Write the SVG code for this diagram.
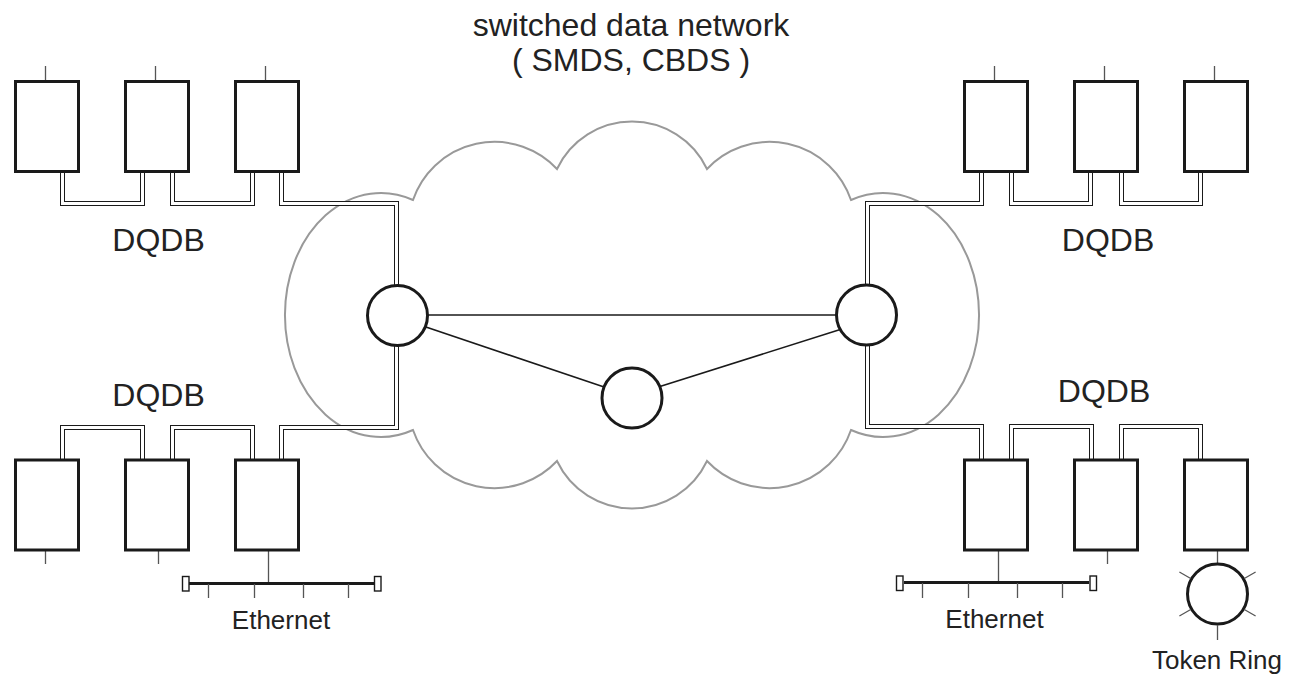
<svg xmlns="http://www.w3.org/2000/svg" width="1290" height="678" viewBox="0 0 1290 678">
<style>
.box{fill:#fff;stroke:#1a1a1a;stroke-width:3}
.node{fill:#fff;stroke:#1a1a1a;stroke-width:3}
.tick{stroke:#555;stroke-width:1.3;fill:none}
.trk{fill:none;stroke:#1a1a1a;stroke-width:5;stroke-linejoin:miter}
.trkw{fill:none;stroke:#fff;stroke-width:3;stroke-linejoin:miter}
.link{stroke:#1a1a1a;stroke-width:1.6;fill:none}
.cloud{fill:none;stroke:#999;stroke-width:2}
.bus{stroke:#1a1a1a;stroke-width:3}
.cap{fill:#fff;stroke:#1a1a1a;stroke-width:1.4}
.lbl{font-family:"Liberation Sans",Arial,sans-serif;fill:#222;text-anchor:middle}
.big{font-size:32px}
.small{font-size:26px}
</style>
<rect width="1290" height="678" fill="#fff"/>

<g id="cloud">
<path class="cloud" d="M413,200 A86,86 0 0 1 557,169 A83,83 0 0 1 707,169 A86,86 0 0 1 851,200 A96,122 0 1 1 851,430 A86,86 0 0 1 707,461 A83,83 0 0 1 557,461 A86,86 0 0 1 413,430 A96,122 0 1 1 413,200 Z"/>
</g>

<g id="connectors">
<g id="tracks">
<path class="trk" d="M62.5,171.5 V203.5 H142.5 V171.5"/>
<path class="trkw" d="M62.5,171.5 V203.5 H142.5 V171.5"/>
<path class="trk" d="M172.5,171.5 V203.5 H252.5 V171.5"/>
<path class="trkw" d="M172.5,171.5 V203.5 H252.5 V171.5"/>
<path class="trk" d="M281.5,171.5 V203.5 H396.5 V290"/>
<path class="trkw" d="M281.5,171.5 V203.5 H396.5 V290"/>
<path class="trk" d="M867.5,290 V203.5 H981.5 V171.5"/>
<path class="trkw" d="M867.5,290 V203.5 H981.5 V171.5"/>
<path class="trk" d="M1011.5,171.5 V203.5 H1090.5 V171.5"/>
<path class="trkw" d="M1011.5,171.5 V203.5 H1090.5 V171.5"/>
<path class="trk" d="M1121.5,171.5 V203.5 H1200.5 V171.5"/>
<path class="trkw" d="M1121.5,171.5 V203.5 H1200.5 V171.5"/>
<path class="trk" d="M62.5,460 V427.5 H142.5 V460"/>
<path class="trkw" d="M62.5,460 V427.5 H142.5 V460"/>
<path class="trk" d="M172.5,460 V427.5 H252.5 V460"/>
<path class="trkw" d="M172.5,460 V427.5 H252.5 V460"/>
<path class="trk" d="M281.5,460 V427.5 H396.5 V340"/>
<path class="trkw" d="M281.5,460 V427.5 H396.5 V340"/>
<path class="trk" d="M867.5,340 V426.5 H981.5 V460"/>
<path class="trkw" d="M867.5,340 V426.5 H981.5 V460"/>
<path class="trk" d="M1011.5,460 V426.5 H1091.5 V460"/>
<path class="trkw" d="M1011.5,460 V426.5 H1091.5 V460"/>
<path class="trk" d="M1121.5,460 V426.5 H1200.5 V460"/>
<path class="trkw" d="M1121.5,460 V426.5 H1200.5 V460"/>
</g>
<g id="links">
<line class="link" x1="420" y1="315" x2="845" y2="315"/>
<line class="link" x1="420" y1="325" x2="610" y2="389"/>
<line class="link" x1="652" y1="389" x2="845" y2="328"/>
</g>
<g id="ticks">
<path class="tick" d="M45.5,66 V80 M155.5,66 V80 M265.5,66 V80 M994.5,66 V80 M1104.5,66 V80 M1214.5,66 V80"/>
<path class="tick" d="M45.5,551 V564 M158.5,551 V564 M268.5,551 V583 M998.5,551 V582 M1107.5,551 V564 M1217.5,551 V564"/>
</g>
</g>

<g id="sw-left"><circle class="node" cx="397.5" cy="315.5" r="30"/></g>
<g id="sw-right"><circle class="node" cx="866.5" cy="315" r="30"/></g>
<g id="sw-mid"><circle class="node" cx="632" cy="398" r="30"/></g>

<g id="tl-1"><rect class="box" x="15.5" y="81.5" width="63" height="90"/></g>
<g id="tl-2"><rect class="box" x="125.5" y="81.5" width="63" height="90"/></g>
<g id="tl-3"><rect class="box" x="235.5" y="81.5" width="63" height="90"/></g>
<g id="tr-1"><rect class="box" x="964.5" y="81.5" width="63" height="90"/></g>
<g id="tr-2"><rect class="box" x="1074.5" y="81.5" width="63" height="90"/></g>
<g id="tr-3"><rect class="box" x="1184.5" y="81.5" width="63" height="90"/></g>
<g id="bl-1"><rect class="box" x="15.5" y="460" width="63" height="90"/></g>
<g id="bl-2"><rect class="box" x="125.5" y="460" width="63" height="90"/></g>
<g id="bl-3"><rect class="box" x="235.5" y="460" width="63" height="90"/></g>
<g id="br-1"><rect class="box" x="964.5" y="460" width="63" height="90"/></g>
<g id="br-2"><rect class="box" x="1074.5" y="460" width="63" height="90"/></g>
<g id="br-3"><rect class="box" x="1184.5" y="460" width="63" height="90"/></g>

<g id="ethernet-left">
<line class="bus" x1="189" y1="583.5" x2="374" y2="583.5"/>
<path class="tick" d="M208.5,584 V598 M254.5,584 V598 M303.5,584 V598 M348.5,584 V598"/>
<rect class="cap" x="182.5" y="576.5" width="6.5" height="14.5"/>
<rect class="cap" x="374.5" y="576.5" width="6.5" height="14.5"/>
<text class="lbl small" x="281" y="629">Ethernet</text>
</g>

<g id="ethernet-right">
<line class="bus" x1="904" y1="582.5" x2="1089" y2="582.5"/>
<path class="tick" d="M922.5,583 V598 M968.5,583 V598 M1017.5,583 V598 M1062.5,583 V598"/>
<rect class="cap" x="896.5" y="576" width="6.5" height="14.5"/>
<rect class="cap" x="1090" y="576" width="6.5" height="14.5"/>
<text class="lbl small" x="994.5" y="628">Ethernet</text>
</g>

<g id="token-ring">
<circle class="node" cx="1217.5" cy="594" r="30"/>
<path class="tick" d="M1217.5,625 V640 M1190.7,578.5 L1179.4,572 M1244.3,578.5 L1255.6,572 M1190.7,609.5 L1179.4,616 M1244.3,609.5 L1255.6,616"/>
<text class="lbl small" x="1217" y="669">Token Ring</text>
</g>

<g id="labels">
<text class="lbl big" x="631" y="36">switched data network</text>
<text class="lbl big" x="631" y="71">( SMDS, CBDS )</text>
<text class="lbl big" x="158.5" y="251">DQDB</text>
<text class="lbl big" x="1108" y="251">DQDB</text>
<text class="lbl big" x="158.5" y="406">DQDB</text>
<text class="lbl big" x="1104" y="402">DQDB</text>
</g>
</svg>
